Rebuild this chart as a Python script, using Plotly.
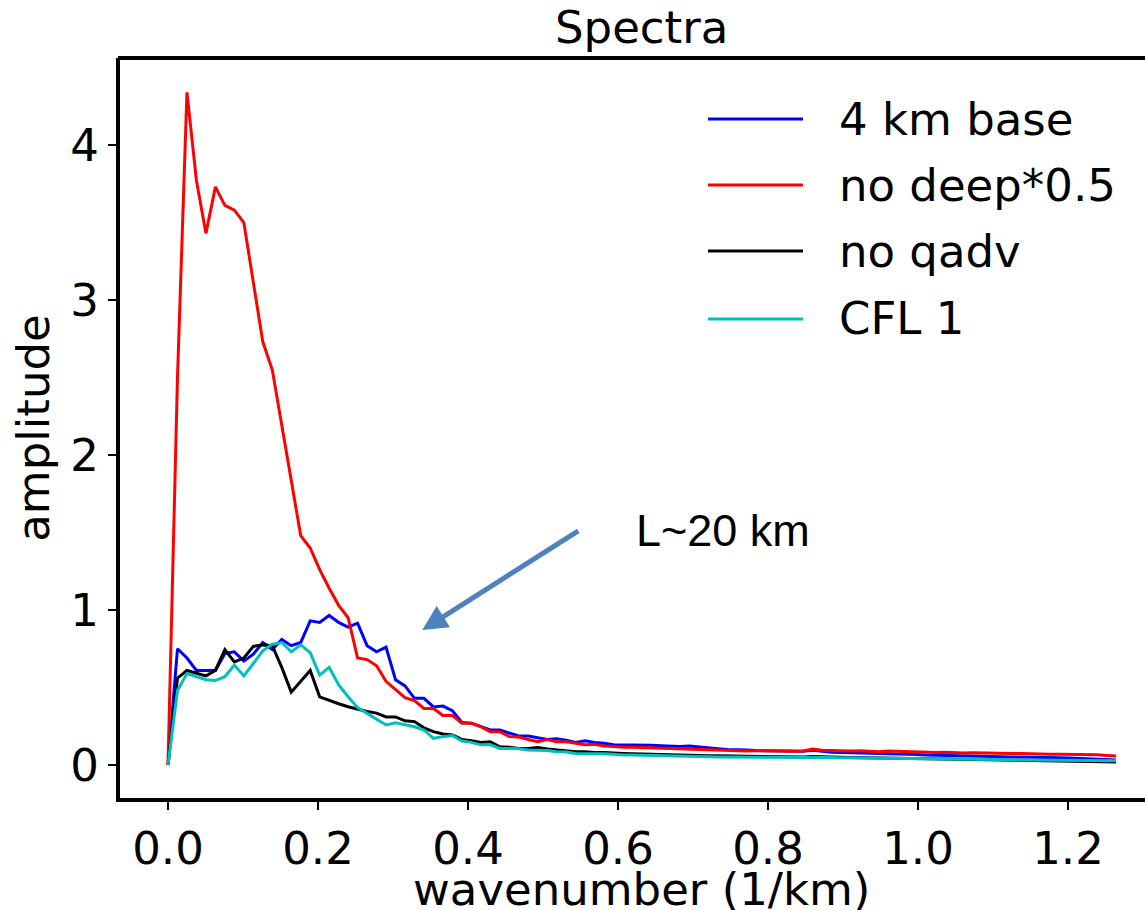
import plotly.graph_objects as go

# wavenumber grid (1/km), 101 samples
wavenumber = [round(0.01264 * k, 5) for k in range(101)]

base_4km = [
    0.0, 0.75, 0.69, 0.61, 0.61, 0.61, 0.72, 0.73, 0.67, 0.715,
    0.79, 0.745, 0.81, 0.77, 0.79, 0.93, 0.92, 0.965, 0.92, 0.89,
    0.915, 0.77, 0.73, 0.76, 0.55, 0.51, 0.43, 0.43, 0.375, 0.38,
    0.35, 0.275, 0.27, 0.25, 0.226, 0.226, 0.204, 0.187, 0.187, 0.178,
    0.165, 0.17, 0.16, 0.145, 0.157, 0.145, 0.14, 0.13, 0.13, 0.13,
    0.132, 0.128, 0.125, 0.122, 0.12, 0.122, 0.115, 0.11, 0.105, 0.1,
    0.1, 0.097, 0.093, 0.092, 0.09, 0.087, 0.086, 0.088, 0.095, 0.088,
    0.082, 0.08, 0.079, 0.077, 0.075, 0.073, 0.072, 0.07, 0.069, 0.067,
    0.065, 0.063, 0.062, 0.06, 0.059, 0.058, 0.056, 0.055, 0.053, 0.052,
    0.05, 0.049, 0.048, 0.047, 0.046, 0.045, 0.043, 0.041, 0.038, 0.035,
    0.032,
]

no_deep = [
    0.0, 2.5, 4.34, 3.77, 3.43, 3.73, 3.61, 3.58, 3.50, 3.12,
    2.73, 2.55, 2.2, 1.84, 1.48, 1.40, 1.26, 1.14, 1.03, 0.95,
    0.69, 0.68, 0.64, 0.54, 0.485, 0.435, 0.415, 0.365, 0.365, 0.32,
    0.32, 0.27, 0.27, 0.247, 0.215, 0.215, 0.183, 0.18, 0.165, 0.15,
    0.165, 0.15, 0.15, 0.14, 0.13, 0.133, 0.122, 0.12, 0.114, 0.114,
    0.112, 0.108, 0.106, 0.104, 0.103, 0.1, 0.098, 0.096, 0.093, 0.093,
    0.092, 0.091, 0.092, 0.09, 0.089, 0.088, 0.088, 0.09, 0.103, 0.095,
    0.092, 0.093, 0.09, 0.092, 0.088, 0.086, 0.09, 0.088, 0.084, 0.085,
    0.082, 0.08, 0.083, 0.08, 0.078, 0.079, 0.077, 0.077, 0.075, 0.074,
    0.074, 0.071, 0.07, 0.069, 0.07, 0.069, 0.068, 0.069, 0.066, 0.062,
    0.058,
]

no_qadv = [
    0.0, 0.56, 0.61, 0.59, 0.575, 0.61, 0.745, 0.665, 0.69, 0.765,
    0.775, 0.77, 0.63, 0.47, 0.54, 0.61, 0.44, 0.415, 0.395, 0.376,
    0.36, 0.345, 0.335, 0.31, 0.31, 0.285, 0.28, 0.24, 0.215, 0.2,
    0.194, 0.165, 0.157, 0.145, 0.15, 0.118, 0.115, 0.107, 0.107, 0.113,
    0.104, 0.097, 0.094, 0.086, 0.086, 0.08, 0.08, 0.075, 0.074, 0.072,
    0.07, 0.069, 0.067, 0.066, 0.066, 0.064, 0.062, 0.06, 0.059, 0.058,
    0.057, 0.055, 0.054, 0.054, 0.053, 0.054, 0.053, 0.052, 0.055, 0.052,
    0.052, 0.05, 0.049, 0.048, 0.047, 0.046, 0.045, 0.045, 0.043, 0.042,
    0.042, 0.04, 0.039, 0.038, 0.036, 0.035, 0.034, 0.033, 0.032, 0.031,
    0.03, 0.029, 0.028, 0.027, 0.026, 0.025, 0.024, 0.023, 0.022, 0.021,
    0.02,
]

cfl_1 = [
    0.0, 0.48, 0.59, 0.57, 0.55, 0.545, 0.57, 0.645, 0.575, 0.655,
    0.737, 0.78, 0.79, 0.73, 0.775, 0.725, 0.58, 0.63, 0.516, 0.44,
    0.37, 0.333, 0.295, 0.258, 0.273, 0.258, 0.247, 0.226, 0.172, 0.183,
    0.19, 0.155, 0.146, 0.13, 0.13, 0.107, 0.107, 0.105, 0.097, 0.095,
    0.093, 0.086, 0.084, 0.075, 0.075, 0.073, 0.072, 0.07, 0.065, 0.065,
    0.063, 0.062, 0.06, 0.059, 0.057, 0.055, 0.054, 0.053, 0.052, 0.052,
    0.051, 0.05, 0.05, 0.05, 0.049, 0.05, 0.049, 0.05, 0.052, 0.049,
    0.048, 0.047, 0.046, 0.045, 0.044, 0.043, 0.042, 0.042, 0.041, 0.04,
    0.04, 0.039, 0.038, 0.038, 0.037, 0.036, 0.036, 0.035, 0.034, 0.034,
    0.033, 0.033, 0.032, 0.031, 0.031, 0.03, 0.03, 0.029, 0.029, 0.028,
    0.027,
]

series_names = ["4 km base", "no deep*0.5", "no qadv", "CFL 1"]
series_values = [base_4km, no_deep, no_qadv, cfl_1]
series_colors = ["#0000FF", "#FF0000", "#000000", "#00BFBF"]

x_ticks = [0.0, 0.2, 0.4, 0.6, 0.8, 1.0, 1.2]
x_tick_labels = ["0.0", "0.2", "0.4", "0.6", "0.8", "1.0", "1.2"]
y_ticks = [0, 1, 2, 3, 4]
y_tick_labels = ["0", "1", "2", "3", "4"]

FONT = "DejaVu Sans"
FS = 45
W, H = 1145, 910
ML, MR, MT, MB = 120, 0, 58, 112
PW, PH = W - ML - MR, H - MT - MB


def px_to_paper(px, py):
    return (px - ML) / PW, (H - MB - py) / PH


fig = go.Figure()
for name, vals, col in zip(series_names, series_values, series_colors):
    fig.add_trace(go.Scatter(x=wavenumber, y=vals, mode="lines", name=name,
                             line=dict(color=col, width=3), showlegend=False))

shapes = []
annotations = []

# top frame line
shapes.append(dict(type="line", xref="paper", yref="paper", x0=-0.002, x1=1, y0=1, y1=1,
                   line=dict(color="black", width=4)))

# legend (manual, to match long line samples)
leg_y = [119, 185, 251, 319]
for name, col, py in zip(series_names, series_colors, leg_y):
    x0, y0 = px_to_paper(708, py)
    x1, _ = px_to_paper(803, py)
    shapes.append(dict(type="line", xref="paper", yref="paper", x0=x0, x1=x1, y0=y0, y1=y0,
                       line=dict(color=col, width=3)))
    tx, ty = px_to_paper(837, py)
    annotations.append(dict(text=name, xref="paper", yref="paper", x=tx, y=ty,
                            xanchor="left", yanchor="middle", showarrow=False,
                            font=dict(family=FONT, size=FS, color="black")))

# arrow + label
annotations.append(dict(x=0.339, y=0.871, xref="x", yref="y", ax=0.549, ay=1.516,
                        axref="x", ayref="y", text="", showarrow=True,
                        arrowhead=2, arrowsize=1.0, arrowwidth=5, arrowcolor="#4F81BD"))
lx, ly = px_to_paper(634, 530)
annotations.append(dict(text="L~20 km", xref="paper", yref="paper", x=lx, y=ly,
                        xanchor="left", yanchor="middle", showarrow=False,
                        font=dict(family="Liberation Sans", size=FS, color="black")))

# title
annotations.append(dict(text="Spectra", xref="paper", yref="paper",
                        x=px_to_paper(641, 0)[0], y=px_to_paper(0, 28)[1],
                        xanchor="center", yanchor="middle", showarrow=False,
                        font=dict(family=FONT, size=FS, color="black")))

# x-axis title (placed like the reference, partly below the page edge)
xt, yt = px_to_paper(641, 889)
annotations.append(dict(text="wavenumber (1/km)", xref="paper", yref="paper", x=xt, y=yt,
                        xanchor="center", yanchor="middle", showarrow=False,
                        font=dict(family=FONT, size=FS, color="black")))

fig.update_layout(
    width=W, height=H,
    margin=dict(l=ML, r=MR, t=MT, b=MB, autoexpand=False),
    paper_bgcolor="white", plot_bgcolor="white",
    font=dict(family=FONT, size=FS, color="black"),
    shapes=shapes, annotations=annotations,
    showlegend=False,
)
fig.update_xaxes(
    range=[(ML - 168) / 750, (W - 168) / 750],
    tickvals=x_ticks, ticktext=x_tick_labels,
    showgrid=False, zeroline=False,
    showline=True, linecolor="black", linewidth=4,
    ticks="outside", ticklen=8, tickwidth=2, tickcolor="black",
    tickfont=dict(family=FONT, size=FS, color="black"),
    automargin=False,
)
fig.update_yaxes(
    range=[(765 - 798) / 155, (765 - 58) / 155],
    tickvals=y_ticks, ticktext=y_tick_labels,
    showgrid=False, zeroline=False,
    showline=True, linecolor="black", linewidth=4,
    ticks="outside", ticklen=8, tickwidth=2, tickcolor="black",
    tickfont=dict(family=FONT, size=FS, color="black"),
    title=dict(text="amplitude", font=dict(family=FONT, size=FS, color="black"), standoff=8),
    automargin=False,
)

fig.write_html(
    "out.html",
    config={"displayModeBar": False},
    post_script="document.body.style.margin='0';document.body.style.overflow='hidden';",
)
